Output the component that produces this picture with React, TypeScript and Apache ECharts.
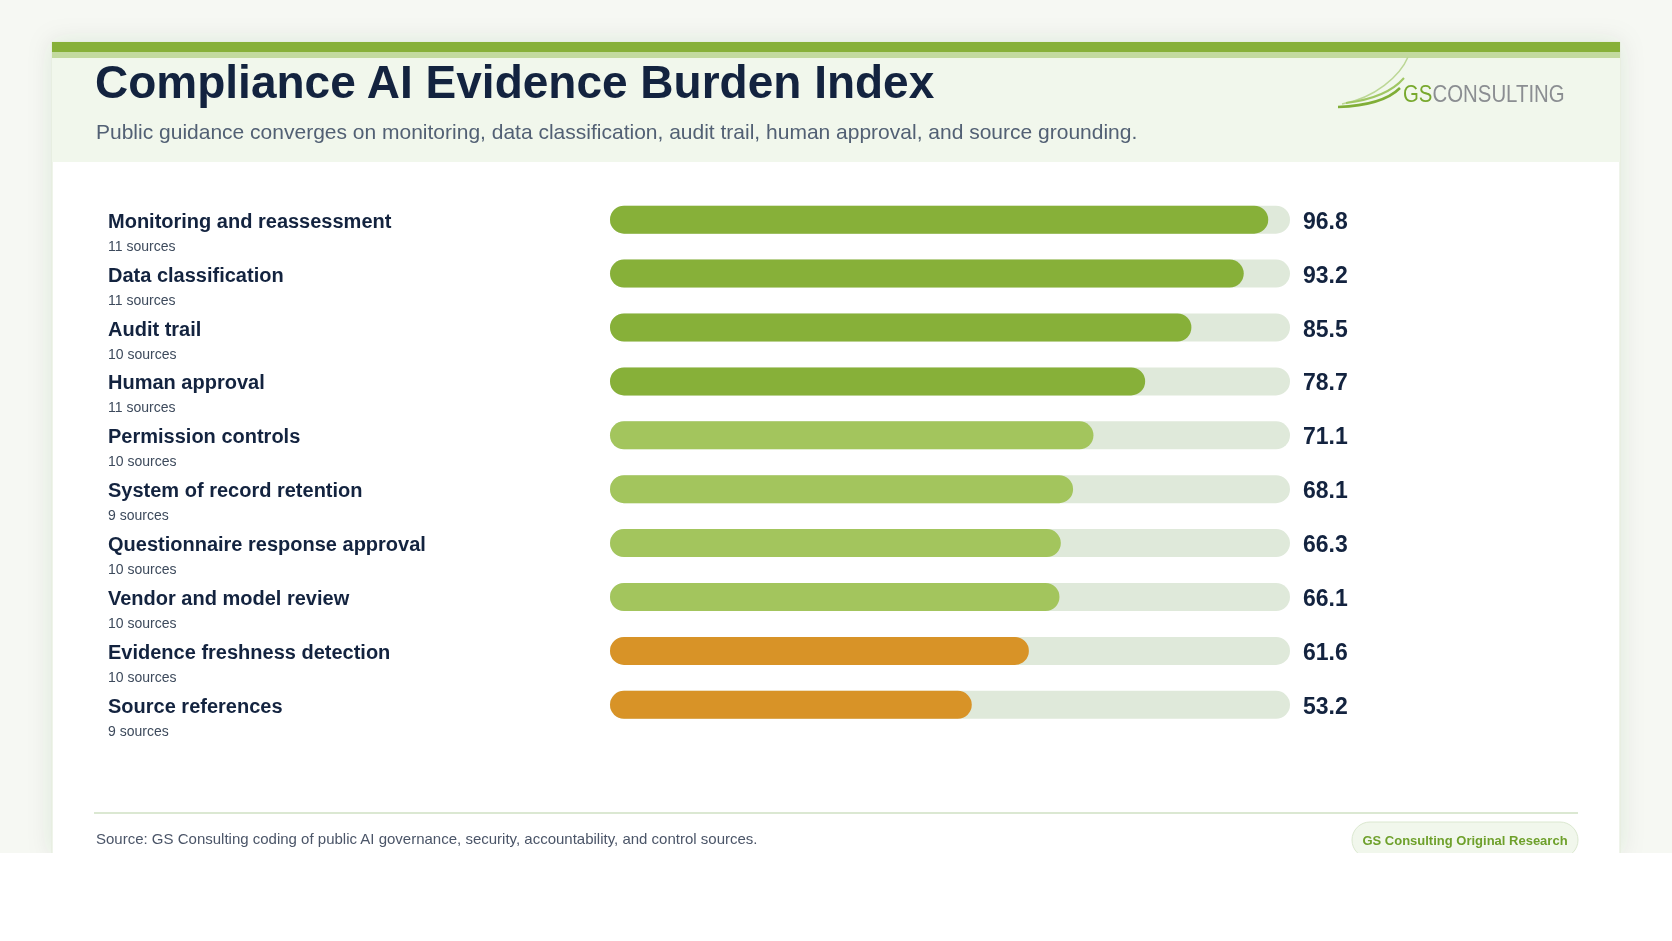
import React, { useEffect, useRef } from "react";
import * as echarts from "echarts";

const categories = [
  "Monitoring and reassessment",
  "Data classification",
  "Audit trail",
  "Human approval",
  "Permission controls",
  "System of record retention",
  "Questionnaire response approval",
  "Vendor and model review",
  "Evidence freshness detection",
  "Source references",
];
const scores = [96.8, 93.2, 85.5, 78.7, 71.1, 68.1, 66.3, 66.1, 61.6, 53.2];
const sourceCounts = [11, 11, 10, 11, 10, 9, 10, 10, 10, 9];
const tiers = ["high", "high", "high", "high", "mid", "mid", "mid", "mid", "low", "low"];
const trackMax = 100;

const tierColors: Record<string, string> = { high: "#87b039", mid: "#a3c55d", low: "#d89327" };
const NAVY = "#13233f";
const FONT = "'Liberation Sans', Arial, Helvetica, sans-serif";

export default function App() {
  const ref = useRef<HTMLDivElement>(null);
  useEffect(() => {
    if (!ref.current) return;
    const chart = echarts.init(ref.current, undefined, { renderer: "svg" });
    const option: any = {
      animation: false,
      textStyle: { fontFamily: FONT },
      grid: { left: 610, top: 192.75, width: 680, height: 539, containLabel: false, outerBoundsMode: "none" },
      xAxis: { type: "value", min: 0, max: trackMax, show: false },
      yAxis: {
        type: "category",
        data: categories,
        inverse: true,
        axisLine: { show: false },
        axisTick: { show: false },
        splitLine: { show: false },
        axisLabel: {
          align: "left",
          margin: 502,
          padding: [28, 0, 0, 0],
          formatter: (v: string, i: number) => `{name|${v}}\n{src|${sourceCounts[i]} sources}`,
          rich: {
            name: { fontSize: 20, fontWeight: "bold", color: NAVY, lineHeight: 24, fontFamily: FONT },
            src: { fontSize: 14, color: "#3d4a5c", lineHeight: 26, fontFamily: FONT },
          },
        },
      },
      series: [
        {
          type: "bar",
          name: "track",
          data: categories.map(() => trackMax),
          barWidth: 28,
          barGap: "-100%",
          silent: true,
          itemStyle: { color: "#dfe9da", borderRadius: 14 },
          label: {
            show: true,
            position: "right",
            distance: 13,
            offset: [0, 1],
            formatter: (p: any) => scores[p.dataIndex].toFixed(1),
            fontSize: 23,
            fontWeight: "bold",
            color: NAVY,
            fontFamily: FONT,
          },
        },
        {
          type: "bar",
          name: "score",
          data: scores.map((v, i) => ({ value: v, itemStyle: { color: tierColors[tiers[i]] } })),
          barWidth: 28,
          barGap: "-100%",
          itemStyle: { borderRadius: 14 },
        },
      ],
      graphic: [
        { type: "rect", z: -10, shape: { x: 0, y: 0, width: 1672, height: 853 }, style: { fill: "#f6f8f3" } },
        {
          type: "rect",
          z: -9,
          shape: { x: 52, y: 42, width: 1568, height: 812 },
          style: { fill: "#ffffff", stroke: "#dfe9d6", lineWidth: 1, shadowBlur: 24, shadowColor: "rgba(60,80,40,0.10)" },
        },
        { type: "rect", z: -8, shape: { x: 52, y: 52, width: 1568, height: 110 }, style: { fill: "#f1f7ec" } },
        { type: "rect", z: -7, shape: { x: 52, y: 42, width: 1568, height: 10 }, style: { fill: "#87b039" } },
        { type: "rect", z: -7, shape: { x: 52, y: 52, width: 1568, height: 6 }, style: { fill: "#c3da9f" } },
        {
          type: "text",
          z: 5,
          x: 95,
          y: 82,
          style: { text: "Compliance AI Evidence Burden Index", fill: NAVY, font: `bold 46px ${FONT}`, verticalAlign: "middle" },
        },
        {
          type: "text",
          z: 5,
          x: 96,
          y: 131,
          style: {
            text: "Public guidance converges on monitoring, data classification, audit trail, human approval, and source grounding.",
            fill: "#526074",
            font: `21px ${FONT}`,
            verticalAlign: "middle",
          },
        },
        {
          type: "bezierCurve",
          z: 5,
          shape: { x1: 1342, y1: 104, cpx1: 1375, cpy1: 98, cpx2: 1400, cpy2: 76, x2: 1408, y2: 57 },
          style: { stroke: "#bcd795", lineWidth: 1.5, fill: null },
        },
        {
          type: "bezierCurve",
          z: 5,
          shape: { x1: 1346, y1: 103, cpx1: 1370, cpy1: 100, cpx2: 1392, cpy2: 92, x2: 1404, y2: 78 },
          style: { stroke: "#a0c763", lineWidth: 2, fill: null },
        },
        {
          type: "bezierCurve",
          z: 5,
          shape: { x1: 1338, y1: 107, cpx1: 1365, cpy1: 106, cpx2: 1388, cpy2: 100, x2: 1400, y2: 88 },
          style: { stroke: "#80ae37", lineWidth: 2.5, fill: null },
        },
        {
          type: "text",
          z: 5,
          x: 1403,
          y: 94,
          scaleX: 0.85,
          style: {
            text: "{g|GS}{c|CONSULTING}",
            verticalAlign: "middle",
            rich: {
              g: { fontSize: 24, fill: "#78a92e", fontFamily: FONT },
              c: { fontSize: 24, fill: "#8b8e92", fontFamily: FONT },
            },
          },
        },
        { type: "line", z: 5, shape: { x1: 94, y1: 813, x2: 1578, y2: 813 }, style: { stroke: "#dbe8d2", lineWidth: 2 } },
        {
          type: "text",
          z: 5,
          x: 96,
          y: 838,
          style: {
            text: "Source: GS Consulting coding of public AI governance, security, accountability, and control sources.",
            fill: "#4b5568",
            font: `15px ${FONT}`,
            verticalAlign: "middle",
          },
        },
        {
          type: "rect",
          z: 5,
          shape: { x: 1352, y: 822, width: 226, height: 36, r: 18 },
          style: { fill: "#f1f7ec", stroke: "#dbe8d0", lineWidth: 1 },
        },
        {
          type: "text",
          z: 6,
          x: 1465,
          y: 840,
          style: {
            text: "GS Consulting Original Research",
            fill: "#6ea02b",
            font: `bold 13px ${FONT}`,
            align: "center",
            verticalAlign: "middle",
          },
        },
        { type: "rect", z: 50, shape: { x: 0, y: 853, width: 1672, height: 88 }, style: { fill: "#ffffff" } },
      ],
    };
    chart.setOption(option);
    return () => chart.dispose();
  }, []);
  return <div ref={ref} style={{ position: "fixed", left: 0, top: 0, width: 1672, height: 941 }} />;
}
